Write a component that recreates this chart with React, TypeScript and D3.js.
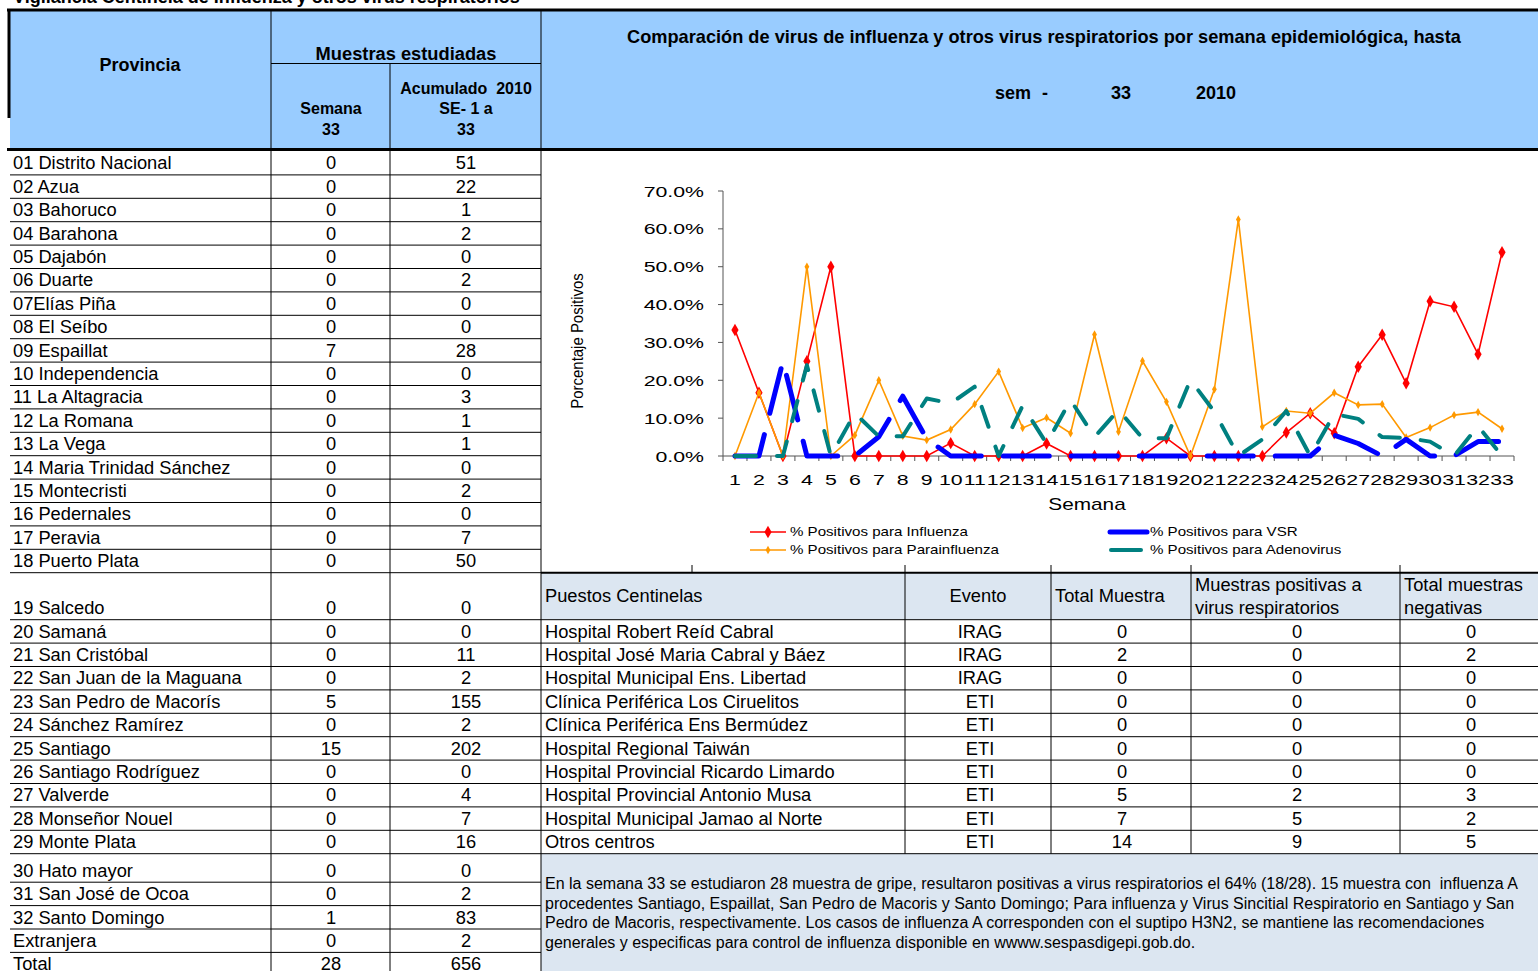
import * as d3 from "d3";

// provincias / muestras (tabla izquierda)
const provincias = [
  "01 Distrito Nacional", "02 Azua", "03 Bahoruco", "04 Barahona", "05 Dajabón", "06 Duarte",
  "07Elías Piña", "08 El Seíbo", "09 Espaillat", "10 Independencia", "11 La Altagracia",
  "12 La Romana", "13 La Vega", "14 Maria Trinidad Sánchez", "15 Montecristi", "16 Pedernales",
  "17 Peravia", "18 Puerto Plata", "19 Salcedo", "20 Samaná", "21 San Cristóbal",
  "22 San Juan de la Maguana", "23 San Pedro de Macorís", "24 Sánchez Ramírez", "25 Santiago",
  "26 Santiago Rodríguez", "27 Valverde", "28 Monseñor Nouel", "29 Monte Plata", "30 Hato mayor",
  "31 San José de Ocoa", "32 Santo Domingo", "Extranjera", "Total",
];
const semana33 = [0, 0, 0, 0, 0, 0, 0, 0, 7, 0, 0, 0, 0, 0, 0, 0, 0, 0, 0, 0, 0, 0, 5, 0, 15, 0, 0, 0, 0, 0, 0, 1, 0, 28];
const acumulado = [51, 22, 1, 2, 0, 2, 0, 0, 28, 0, 3, 1, 1, 0, 2, 0, 7, 50, 0, 0, 11, 2, 155, 2, 202, 0, 4, 7, 16, 0, 2, 83, 2, 656];

// puestos centinelas (tabla derecha)
const puestos = [
  "Hospital Robert Reíd Cabral", "Hospital José Maria Cabral y Báez", "Hospital Municipal Ens. Libertad",
  "Clínica Periférica Los Ciruelitos", "Clínica Periférica Ens Bermúdez", "Hospital Regional Taiwán",
  "Hospital Provincial Ricardo Limardo", "Hospital Provincial Antonio Musa",
  "Hospital Municipal Jamao al Norte", "Otros centros",
];
const evento = ["IRAG", "IRAG", "IRAG", "ETI", "ETI", "ETI", "ETI", "ETI", "ETI", "ETI"];
const totalMuestra = [0, 2, 0, 0, 0, 0, 0, 5, 7, 14];
const positivas = [0, 0, 0, 0, 0, 0, 0, 2, 5, 9];
const negativas = [0, 2, 0, 0, 0, 0, 0, 3, 2, 5];

// grafico: % positivos por semana
const semanas = [1, 2, 3, 4, 5, 6, 7, 8, 9, 10, 11, 12, 13, 14, 15, 16, 17, 18, 19, 20, 21, 22, 23, 24, 25, 26, 27, 28, 29, 30, 31, 32, 33];
const influenza = [33.3, 16.7, 0, 25, 50, 0, 0, 0, 0, 3.4, 0, 0, 0, 3.3, 0, 0, 0, 0, 4.7, 0, 0, 0, 0, 6.2, 11.3, 6.0, 23.6, 32.0, 19.2, 40.9, 39.4, 26.9, 53.8];
const parainfluenza = [0, 16.7, 0, 50, 0, 5.5, 20.0, 5.3, 4.2, 7.0, 13.7, 22.3, 7.4, 10.1, 6.0, 32.1, 6.4, 25.1, 14.3, 0, 17.6, 62.5, 7.7, 11.9, 11.3, 16.7, 13.5, 13.7, 4.9, 7.5, 10.8, 11.6, 7.2];
const vsr = [0, 0, 25, 0, 0, 0, 5.1, 15.8, 4.5, 0, 0, 0, 0, 0, 0, 0, 0, 0, 0, 0, 0, 0, 0, 0, 0, 5.5, 3.3, 0, 4.4, 0, 0, 3.8, 3.8];
const adenovirus = [0, 0, 0, 24, 0, 11.3, 5.2, 5.2, 15.2, 13.9, 18.3, 0, 13.3, 3.3, 14.8, 5.0, 12.2, 4.7, 4.7, 20.1, 11.7, 0, 4.4, 11.9, 0, 11.1, 9.8, 5.0, 4.8, 3.8, 0, 7.9, 0];
const yTicks = [0, 10, 20, 30, 40, 50, 60, 70];

const parrafo = [
  "En la semana 33 se estudiaron 28 muestra de gripe, resultaron positivas a virus respiratorios el 64% (18/28). 15 muestra con  influenza A",
  "procedentes Santiago, Espaillat, San Pedro de Macoris y Santo Domingo; Para influenza y Virus Sincitial Respiratorio en Santiago y San",
  "Pedro de Macoris, respectivamente. Los casos de influenza A corresponden con el suptipo H3N2, se mantiene las recomendaciones",
  "generales y especificas para control de influenza disponible en wwww.sespasdigepi.gob.do.",
];

const FONT = "Arial, 'Liberation Sans', sans-serif";
const BLUE = "#99CCFF";
const PALE = "#DCE6F1";
const CELL = 18.3;

// row heights of the sheet (row 19 and 30 are taller)
const ROW = 23.4;
const rowTops: number[] = [];
{
  let y = 151.5;
  provincias.forEach((p, i) => {
    rowTops.push(y);
    y += i === 18 ? 47 : i === 29 ? 28.5 : ROW;
  });
  rowTops.push(y);
}

// excel chart text is drawn stretched sideways
function Wide({ x, y, sx = 1.42, anchor = "start", size = 15, children }: any) {
  return (
    <g transform={`translate(${x},${y}) scale(${sx},1)`}>
      <text textAnchor={anchor} fontSize={size} fontFamily={FONT}>{children}</text>
    </g>
  );
}

function Chart() {
  const x = d3.scaleBand<number>().domain(semanas).range([723, 1514]);
  const y = d3.scaleLinear().domain([0, 70]).range([456, 191]);
  const cx = (d: number) => x(d)! + x.bandwidth() / 2;
  const line = (vals: number[]) =>
    d3.line<number>().x((d, i) => cx(semanas[i])).y((d) => y(d))(vals) || "";
  const diamond = d3.symbol().type(d3.symbolDiamond);

  return (
    <g>
      {/* axes */}
      <line x1={723} x2={723} y1={191} y2={456} stroke="#555" />
      {yTicks.map((t) => (
        <g key={t}>
          <line x1={718} x2={723} y1={y(t)} y2={y(t)} stroke="#555" />
          <Wide x={704} y={y(t) + 5.5} anchor="end">{d3.format(".1f")(t) + "%"}</Wide>
        </g>
      ))}
      <line x1={723} x2={1514} y1={456} y2={456} stroke="#555" />
      {semanas.map((s) => (
        <g key={s}>
          <line x1={x(s)! + x.bandwidth()} x2={x(s)! + x.bandwidth()} y1={456} y2={461} stroke="#555" />
          <Wide x={cx(s)} y={485} anchor="middle">{s}</Wide>
        </g>
      ))}
      <line x1={723} x2={723} y1={456} y2={461} stroke="#555" />
      <Wide x={1087} y={510} sx={1.3} size={16} anchor="middle">Semana</Wide>
      <g transform="translate(583,341) rotate(-90) scale(0.88,1)">
        <text textAnchor="middle" fontSize={17} fontFamily={FONT}>Porcentaje Positivos</text>
      </g>

      {/* series */}
      <path d={line(influenza)} fill="none" stroke="#FF0000" strokeWidth={1.6} />
      {influenza.map((v, i) => (
        <path key={i} d={diamond.size(45)()!} transform={`translate(${cx(semanas[i])},${y(v)})`} fill="#FF0000" />
      ))}
      <path d={line(parainfluenza)} fill="none" stroke="#FF9900" strokeWidth={1.6} />
      {parainfluenza.map((v, i) => (
        <path key={i} d={diamond.size(20)()!} transform={`translate(${cx(semanas[i])},${y(v)})`} fill="#FF9900" />
      ))}
      <path d={line(vsr)} fill="none" stroke="#0000FF" strokeWidth={5} strokeDasharray="46 22" strokeLinecap="round" strokeLinejoin="round" />
      <path d={line(adenovirus)} fill="none" stroke="#008080" strokeWidth={4} strokeDasharray="21 21" strokeLinecap="round" strokeLinejoin="round" />

      {/* legend */}
      <line x1={750} x2={786} y1={532} y2={532} stroke="#FF0000" strokeWidth={1.6} />
      <path d={diamond.size(45)()!} transform="translate(768,532)" fill="#FF0000" />
      <Wide x={790} y={536} sx={1.26} size={12}>% Positivos para Influenza</Wide>
      <line x1={750} x2={786} y1={550} y2={550} stroke="#FF9900" strokeWidth={1.6} />
      <path d={diamond.size(20)()!} transform="translate(768,550)" fill="#FF9900" />
      <Wide x={790} y={554} sx={1.26} size={12}>% Positivos para Parainfluenza</Wide>
      <line x1={1110} x2={1147} y1={532} y2={532} stroke="#0000FF" strokeWidth={5} strokeLinecap="round" />
      <Wide x={1150} y={536} sx={1.26} size={12}>% Positivos para VSR</Wide>
      <line x1={1111} x2={1141} y1={550} y2={550} stroke="#008080" strokeWidth={4} strokeLinecap="round" />
      <Wide x={1150} y={554} sx={1.26} size={12}>% Positivos para Adenovirus</Wide>
    </g>
  );
}

export default function App() {
  const bottom = rowTops[rowTops.length - 1];
  const rightCols = [905, 1051, 1191, 1400];
  return (
    <svg width={1538} height={971} style={{ position: "absolute", left: 0, top: 0, background: "#fff" }} fontFamily={FONT}>
      <text x={13} y={3} fontSize={18} fontWeight="bold">Vigilancia Centinela de Influenza y otros virus respiratorios</text>

      {/* headers */}
      <rect x={10} y={11} width={531} height={138} fill={BLUE} />
      <rect x={541} y={11} width={997} height={138} fill={BLUE} />
      <g fontWeight="bold" textAnchor="middle">
        <text x={140} y={71} fontSize={18}>Provincia</text>
        <text x={406} y={60} fontSize={18.3}>Muestras estudiadas</text>
        <text x={331} y={114} fontSize={16}>Semana</text>
        <text x={331} y={135} fontSize={16}>33</text>
        <text x={466} y={94} fontSize={16} xmlSpace="preserve" style={{ whiteSpace: "pre" }}>Acumulado  2010</text>
        <text x={466} y={114} fontSize={16}>SE- 1 a</text>
        <text x={466} y={135} fontSize={16}>33</text>
        <text x={1044} y={43} fontSize={18.2}>Comparación de virus de influenza y otros virus respiratorios por semana epidemiológica, hasta</text>
        <text x={1013} y={99} fontSize={18}>sem</text>
        <text x={1045} y={99} fontSize={18}>-</text>
        <text x={1121} y={99} fontSize={18}>33</text>
        <text x={1216} y={99} fontSize={18}>2010</text>
      </g>
      <line x1={271} x2={541} y1={63.5} y2={63.5} stroke="#000" />
      <line x1={271} x2={271} y1={11} y2={149} stroke="#000" />
      <line x1={390} x2={390} y1={63} y2={149} stroke="#000" />
      <line x1={541} x2={541} y1={11} y2={149} stroke="#000" />
      <line x1={7} x2={1538} y1={10} y2={10} stroke="#000" strokeWidth={3} />
      <line x1={9} x2={9} y1={9} y2={118} stroke="#000" strokeWidth={3} />
      <line x1={7} x2={1538} y1={149.5} y2={149.5} stroke="#000" strokeWidth={3} />

      {/* lower right pale areas */}
      <rect x={541} y={rowTops[18]} width={997} height={rowTops[19] - rowTops[18]} fill={PALE} />
      <rect x={541} y={rowTops[29]} width={997} height={971 - rowTops[29]} fill={PALE} />

      {/* left table */}
      {provincias.map((p, i) => {
        const base = rowTops[i + 1] - 5.5;
        return (
          <g key={p} fontSize={CELL}>
            <text x={13} y={base}>{p}</text>
            <text x={331} y={base} textAnchor="middle">{semana33[i]}</text>
            <text x={466} y={base} textAnchor="middle">{acumulado[i]}</text>
            {i < provincias.length - 1 && (
              <line x1={10} x2={541} y1={rowTops[i + 1]} y2={rowTops[i + 1]} stroke="#000" />
            )}
          </g>
        );
      })}
      <line x1={271} x2={271} y1={150} y2={bottom} stroke="#000" />
      <line x1={390} x2={390} y1={150} y2={bottom} stroke="#000" />
      <line x1={541} x2={541} y1={150} y2={bottom} stroke="#000" />

      <Chart />

      {/* lower right table */}
      <g fontSize={CELL}>
        <text x={545} y={602}>Puestos Centinelas</text>
        <text x={978} y={602} textAnchor="middle">Evento</text>
        <text x={1055} y={602}>Total Muestra</text>
        <text x={1195} y={591}>Muestras positivas a</text>
        <text x={1195} y={614}>virus respiratorios</text>
        <text x={1404} y={591}>Total muestras</text>
        <text x={1404} y={614}>negativas</text>
        {puestos.map((p, i) => {
          const base = rowTops[i + 20] - 5.5;
          return (
            <g key={p}>
              <text x={545} y={base}>{p}</text>
              <text x={980} y={base} textAnchor="middle">{evento[i]}</text>
              <text x={1122} y={base} textAnchor="middle">{totalMuestra[i]}</text>
              <text x={1297} y={base} textAnchor="middle">{positivas[i]}</text>
              <text x={1471} y={base} textAnchor="middle">{negativas[i]}</text>
              <line x1={541} x2={1538} y1={rowTops[i + 20]} y2={rowTops[i + 20]} stroke="#000" />
            </g>
          );
        })}
      </g>
      <line x1={541} x2={1538} y1={rowTops[18]} y2={rowTops[18]} stroke="#000" strokeWidth={2} />
      <line x1={541} x2={1538} y1={rowTops[19]} y2={rowTops[19]} stroke="#000" />
      <line x1={692} x2={692} y1={565} y2={rowTops[18]} stroke="#000" />
      {rightCols.map((c) => (
        <line key={c} x1={c} x2={c} y1={565} y2={rowTops[29]} stroke="#000" />
      ))}

      <g fontSize={16}>
        {parrafo.map((t, i) => (
          <text key={i} x={545} y={889 + i * 19.5} xmlSpace="preserve" style={{ whiteSpace: "pre" }}>{t}</text>
        ))}
      </g>
    </svg>
  );
}
